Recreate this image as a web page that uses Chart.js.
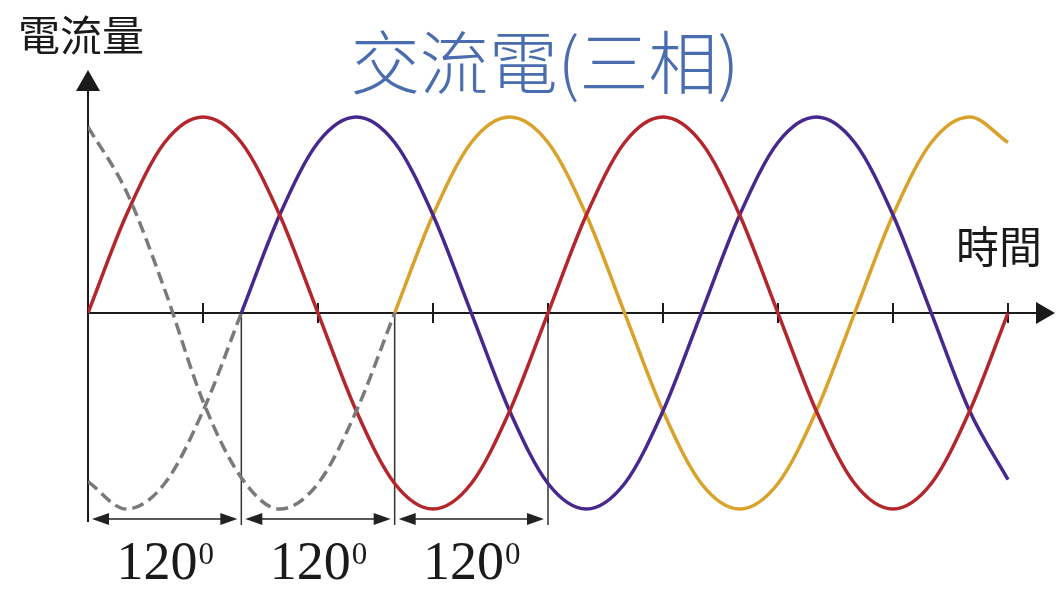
<!DOCTYPE html>
<html>
<head>
<meta charset="utf-8">
<script src="https://cdn.jsdelivr.net/npm/chart.js@4.4.1/dist/chart.umd.min.js"></script>
<style>
    html, body { margin: 0; padding: 0; background: #fff; }
    #wrap { width: 1058px; height: 592px; }
</style>
</head>
<body>
<div id="wrap"><canvas id="grafico" width="1058" height="592"></canvas></div>
<script>
const titulo = '交流電(三相)';
const rotuloY = '電流量';
const rotuloX = '時間';

// fase em graus (eixo do tempo) e corrente relativa
const angVermelho = [0, 30, 60, 90, 120, 150, 180, 210, 240, 270, 300, 330, 360, 390, 420, 450, 480, 510, 540, 570, 600, 630, 660, 690, 720];
const valVermelho = [0, 0.5, 0.87, 1, 0.87, 0.5, 0, -0.5, -0.87, -1, -0.87, -0.5, 0, 0.5, 0.87, 1, 0.87, 0.5, 0, -0.5, -0.87, -1, -0.87, -0.5, 0];

const angAzul = [120, 150, 180, 210, 240, 270, 300, 330, 360, 390, 420, 450, 480, 510, 540, 570, 600, 630, 660, 690, 720];
const valAzul = [0, 0.5, 0.87, 1, 0.87, 0.5, 0, -0.5, -0.87, -1, -0.87, -0.5, 0, 0.5, 0.87, 1, 0.87, 0.5, 0, -0.5, -0.85];

const angAmarelo = [240, 270, 300, 330, 360, 390, 420, 450, 480, 510, 540, 570, 600, 630, 660, 690, 720];
const valAmarelo = [0, 0.5, 0.87, 1, 0.87, 0.5, 0, -0.5, -0.87, -1, -0.87, -0.5, 0, 0.5, 0.87, 1, 0.87];

// continuacoes tracejadas (cinza)
const angTracoA = [0, 30, 60, 90, 120, 150, 180, 210, 240];
const valTracoA = [0.95, 0.62, 0.12, -0.45, -0.84, -1, -0.87, -0.5, 0];
const angTracoB = [0, 30, 60, 90, 120];
const valTracoB = [-0.86, -1, -0.87, -0.5, 0];

const marcas = [90, 180, 270, 360, 450, 540, 630, 720];
const fases = [0, 120, 240, 360];
const rotuloFase = '120';
const expoenteFase = '0';

function pontos(angs, vals) {
    return angs.map((a, i) => ({ x: a, y: vals[i] }));
}

function linha(dados, cor, tracejado) {
    return {
        data: dados,
        borderColor: cor,
        borderWidth: tracejado ? 3.5 : 3.5,
        borderDash: tracejado ? [12, 6] : [],
        pointRadius: 0,
        fill: false,
        cubicInterpolationMode: 'monotone'
    };
}

function seta(ctx, x, y, dx, dy, comp, larg) {
    // ponta em (x, y) apontando na direcao (dx, dy)
    const px = -dy, py = dx;
    ctx.beginPath();
    ctx.moveTo(x, y);
    ctx.lineTo(x - dx * comp + px * larg, y - dy * comp + py * larg);
    ctx.lineTo(x - dx * comp - px * larg, y - dy * comp - py * larg);
    ctx.closePath();
    ctx.fill();
}

const desenhoExtra = {
    id: 'desenhoExtra',
    beforeDatasetsDraw(chart) {
        const ctx = chart.ctx;
        const sx = chart.scales.x;
        const sy = chart.scales.y;
        const x0 = sx.getPixelForValue(0);
        const y0 = sy.getPixelForValue(0);
        const direita = chart.chartArea.right;
        const topo = chart.chartArea.top;
        const base = 522;

        ctx.save();
        ctx.strokeStyle = '#1a1a1a';
        ctx.fillStyle = '#1a1a1a';
        ctx.lineWidth = 2;

        // eixo vertical
        ctx.beginPath();
        ctx.moveTo(x0, base);
        ctx.lineTo(x0, topo + 18);
        ctx.stroke();
        seta(ctx, x0, topo - 2, 0, -1, 21, 12);

        // eixo horizontal
        ctx.beginPath();
        ctx.moveTo(x0, y0);
        ctx.lineTo(direita - 16, y0);
        ctx.stroke();
        seta(ctx, direita, y0, 1, 0, 19, 11);

        // marcas
        marcas.forEach(m => {
            const x = sx.getPixelForValue(m);
            ctx.beginPath();
            ctx.moveTo(x, y0 - 10);
            ctx.lineTo(x, y0 + 10);
            ctx.stroke();
        });

        // linhas das fases
        ctx.strokeStyle = '#333';
        ctx.lineWidth = 1.5;
        fases.slice(1).forEach(f => {
            const x = sx.getPixelForValue(f);
            ctx.beginPath();
            ctx.moveTo(x, y0);
            ctx.lineTo(x, base + 3);
            ctx.stroke();
        });
        ctx.restore();
    },
    afterDraw(chart) {
        const ctx = chart.ctx;
        const sx = chart.scales.x;
        const ySeta = 519;

        ctx.save();
        for (let i = 0; i < fases.length - 1; i++) {
            const a = sx.getPixelForValue(fases[i]) + 4;
            const b = sx.getPixelForValue(fases[i + 1]) - 4;
            ctx.strokeStyle = '#222';
            ctx.fillStyle = '#222';
            ctx.lineWidth = 1.3;
            ctx.beginPath();
            ctx.moveTo(a + 8, ySeta);
            ctx.lineTo(b - 8, ySeta);
            ctx.stroke();
            seta(ctx, a, ySeta, -1, 0, 17, 6);
            seta(ctx, b, ySeta, 1, 0, 17, 6);

            // rotulo 120 com expoente
            const meio = (a + b) / 2;
            ctx.font = '54px "Liberation Serif"';
            const w1 = ctx.measureText(rotuloFase).width;
            ctx.font = '31px "Liberation Serif"';
            const w2 = ctx.measureText(expoenteFase).width;
            const inicio = meio - (w1 + w2) / 2;
            ctx.textAlign = 'left';
            ctx.textBaseline = 'alphabetic';
            ctx.fillStyle = '#1a1a1a';
            ctx.font = '54px "Liberation Serif"';
            ctx.fillText(rotuloFase, inicio, 579);
            ctx.font = '31px "Liberation Serif"';
            ctx.fillText(expoenteFase, inicio + w1 + 1, 564);
        }

        // textos
        ctx.textBaseline = 'middle';
        ctx.textAlign = 'left';
        ctx.fillStyle = '#1a1a1a';
        ctx.font = '42px "Noto Sans CJK TC"';
        ctx.fillText(rotuloY, 18, 35);
        ctx.font = '43px "Noto Sans CJK TC"';
        ctx.fillText(rotuloX, 956, 247);

        ctx.textAlign = 'center';
        ctx.fillStyle = '#4a6db0';
        ctx.font = '300 69px "Noto Sans CJK TC"';
        ctx.fillText(titulo, 545, 63);
        ctx.restore();
    }
};

const ctx = document.getElementById('grafico').getContext('2d');
new Chart(ctx, {
    type: 'line',
    data: {
        datasets: [
            linha(pontos(angTracoA, valTracoA), '#7a7a7a', true),
            linha(pontos(angTracoB, valTracoB), '#7a7a7a', true),
            linha(pontos(angVermelho, valVermelho), '#b3262c', false),
            linha(pontos(angAzul, valAzul), '#47288f', false),
            linha(pontos(angAmarelo, valAmarelo), '#d9a22a', false)
        ]
    },
    options: {
        responsive: false,
        animation: false,
        devicePixelRatio: 1,
        layout: { padding: { left: 88, right: 3, top: 72, bottom: 62 } },
        plugins: { legend: { display: false }, tooltip: { enabled: false } },
        scales: {
            x: { type: 'linear', min: 0, max: 756.8, display: false },
            y: { min: -1.107, max: 1.2296, display: false }
        }
    },
    plugins: [desenhoExtra]
});
</script>
</body>
</html>
